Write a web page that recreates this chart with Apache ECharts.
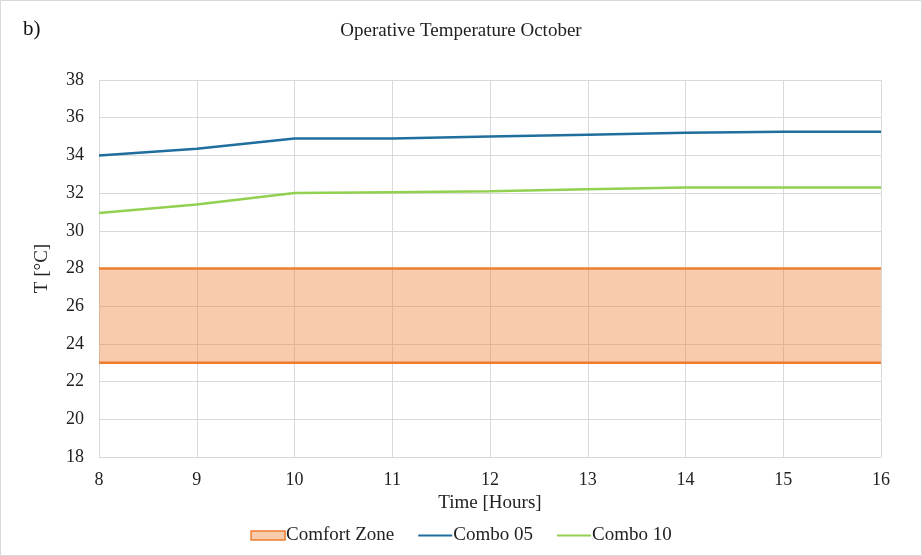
<!DOCTYPE html>
<html><head><meta charset="utf-8">
<script src="https://cdn.jsdelivr.net/npm/echarts@6/dist/echarts.min.js"></script>
<style>html,body{margin:0;padding:0;background:#fff}#c{width:922px;height:556px}</style>
</head><body><div id="c"></div>
<script>
var hours = ['8', '9', '10', '11', '12', '13', '14', '15', '16'];
var combo05 = [34.0, 34.35, 34.9, 34.9, 35.0, 35.1, 35.2, 35.25, 35.25];
var combo10 = [30.95, 31.4, 32.0, 32.05, 32.1, 32.2, 32.3, 32.3, 32.3];
var comfortLow = [23, 23, 23, 23, 23, 23, 23, 23, 23];
var comfortHigh = [28, 28, 28, 28, 28, 28, 28, 28, 28];

var band = comfortHigh.map(function (v, i) { return v - comfortLow[i]; });

var FONT = '"Liberation Serif", "Times New Roman", serif';
var chart = echarts.init(document.getElementById('c'));
chart.setOption({
  animation: false,
  textStyle: { fontFamily: FONT },
  title: [
    { text: 'Operative Temperature October', left: 'center', top: 17, textStyle: { fontFamily: FONT, fontSize: 19, fontWeight: 'normal', color: '#222' } },
    { text: 'b)', left: 18, top: 14, textStyle: { fontFamily: FONT, fontSize: 21, fontWeight: 'normal', color: '#111' } }
  ],
  graphic: [{ type: 'rect', shape: { x: 0.5, y: 0.5, width: 921, height: 555 }, style: { fill: 'none', stroke: '#d9d9d9', lineWidth: 1 }, silent: true }],
  grid: { left: 99, right: 41, top: 80, bottom: 99 },
  legend: {
    bottom: 6, left: 'center', itemGap: 24, itemWidth: 34, itemHeight: 9,
    textStyle: { fontFamily: FONT, fontSize: 19, color: '#222', padding: [0, 0, 0, -4] },
    data: [
      { name: 'Comfort Zone', icon: 'rect', itemStyle: { color: 'rgba(237,125,49,0.4)', borderColor: '#ED7D31', borderWidth: 1.5 } },
      { name: 'Combo 05', icon: 'path://M0,4 L34,4 L34,6 L0,6 Z', itemStyle: { color: '#1F6E9E' } },
      { name: 'Combo 10', icon: 'path://M0,4 L34,4 L34,6 L0,6 Z', itemStyle: { color: '#92D050' } }
    ]
  },
  xAxis: {
    type: 'category', data: hours, boundaryGap: false,
    name: 'Time [Hours]', nameLocation: 'middle', nameGap: 28,
    nameTextStyle: { fontFamily: FONT, fontSize: 19, color: '#222' },
    axisLine: { show: true, lineStyle: { color: '#d9d9d9', width: 1 } },
    axisTick: { show: false },
    axisLabel: { fontFamily: FONT, fontSize: 18, color: '#222', margin: 14, interval: 0 },
    splitLine: { show: true, interval: 0, lineStyle: { color: '#d9d9d9', width: 1 } }
  },
  yAxis: {
    type: 'value', min: 18, max: 38, interval: 2,
    name: 'T [°C]', nameLocation: 'middle', nameGap: 47,
    nameTextStyle: { fontFamily: FONT, fontSize: 19, color: '#222' },
    axisLine: { show: false }, axisTick: { show: false },
    axisLabel: { fontFamily: FONT, fontSize: 18, color: '#222', margin: 15 },
    splitLine: { show: true, lineStyle: { color: '#d9d9d9', width: 1 } }
  },
  series: [
    { name: 'Comfort Zone', type: 'line', stack: 'cz', data: comfortLow, showSymbol: false, symbol: 'none',
      lineStyle: { color: '#ED7D31', width: 2.5 }, itemStyle: { color: '#ED7D31' } },
    { name: 'Comfort Zone', type: 'line', stack: 'cz', data: band, showSymbol: false, symbol: 'none',
      lineStyle: { color: '#ED7D31', width: 2.5 }, itemStyle: { color: '#ED7D31' },
      areaStyle: { color: 'rgba(237,125,49,0.4)', opacity: 1 } },
    { name: 'Combo 05', type: 'line', data: combo05, showSymbol: false, symbol: 'none',
      lineStyle: { color: '#1F6E9E', width: 2.5 }, itemStyle: { color: '#1F6E9E' } },
    { name: 'Combo 10', type: 'line', data: combo10, showSymbol: false, symbol: 'none',
      lineStyle: { color: '#92D050', width: 2.5 }, itemStyle: { color: '#92D050' } }
  ]
});
</script></body></html>
